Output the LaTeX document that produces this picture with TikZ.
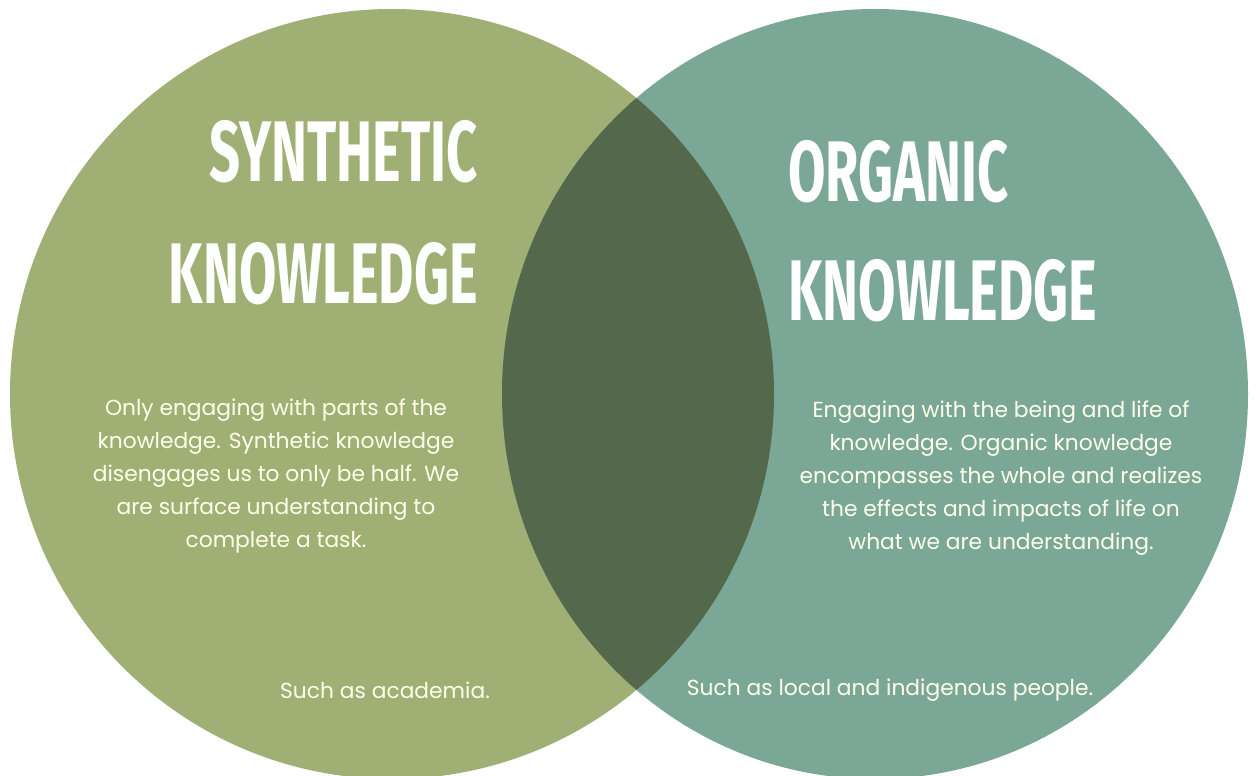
\documentclass[tikz,border=0pt]{standalone}
\usepackage{fontspec}
\setmainfont{Poppins}
\newfontfamily\headfont[FakeStretch=0.63]{Fira Sans}
\usetikzlibrary{positioning}

\definecolor{sage}{HTML}{A0AF74}
\definecolor{teal}{HTML}{7AA796}
\definecolor{moss}{HTML}{54684C}

\begin{document}
\begin{tikzpicture}[x=0.02cm, y=-0.02cm,
heading/.style={text=white, font=\headfont\bfseries\fontsize{49}{60}\selectfont, inner sep=0pt},
body/.style={text=white!92!yellow, font=\fontsize{12.4}{18.8}\selectfont, align=center, inner sep=0pt},
]
\clip (0,0) rectangle (1257,776);
\fill[white] (0,0) rectangle (1257,776);
\fill[sage] (392,394) ellipse (382 and 385);
\fill[teal] (875,394) ellipse (373 and 385);
\begin{scope}
  \clip (392,394) ellipse (382 and 385);
  \fill[moss] (875,394) ellipse (373 and 385);
\end{scope}

\node[heading, anchor=north east] (synth) at (478,120) {SYNTHETIC};
\node[heading, anchor=north east] (synthk) at (478,242) {KNOWLEDGE};
\node[heading, anchor=north west] (organic) at (788,140) {ORGANIC};
\node[heading, anchor=north west] (organick) at (788,259) {KNOWLEDGE};

\node[body] (synthdesc) at (276,476) {Only engaging with parts of the\\
knowledge. Synthetic knowledge\\
disengages us to only be half. We\\
are surface understanding to\\
complete a task.};
\node[body] (organicdesc) at (1001,478) {Engaging with the being and life of\\
knowledge. Organic knowledge\\
encompasses the whole and realizes\\
the effects and impacts of life on\\
what we are understanding.};

\node[body] (synthex) at (385,690) {Such as academia.};
\node[body] (organicex) at (890,690) {Such as local and indigenous people.};
\end{tikzpicture}
\end{document}
